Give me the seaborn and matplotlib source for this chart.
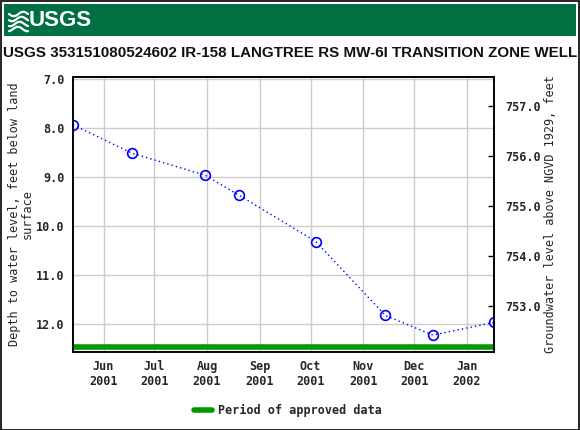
import matplotlib
matplotlib.use("Agg")
import matplotlib.pyplot as plt
import matplotlib.dates as mdates
import seaborn as sns
import pandas as pd
import numpy as np
from matplotlib.patches import Rectangle

# ---- data ----
dates = ["2001-05-14", "2001-06-18", "2001-07-31", "2001-08-20",
         "2001-10-04", "2001-11-14", "2001-12-12", "2002-01-17"]
depths = [7.93, 8.51, 8.96, 9.37, 10.31, 11.82, 12.22, 11.96]
tick_dates = ["2001-06-01", "2001-07-01", "2001-08-01", "2001-09-01",
              "2001-10-01", "2001-11-01", "2001-12-01", "2002-01-01"]
tick_labels = ["Jun\n2001", "Jul\n2001", "Aug\n2001", "Sep\n2001",
               "Oct\n2001", "Nov\n2001", "Dec\n2001", "Jan\n2002"]
left_ticks = [7.0, 8.0, 9.0, 10.0, 11.0, 12.0]
right_ticks = [753.0, 754.0, 755.0, 756.0, 757.0]
approved_start = "2001-05-14"
approved_end = "2002-01-17"

title = "USGS 353151080524602 IR-158 LANGTREE RS MW-6I TRANSITION ZONE WELL"

df = pd.DataFrame({"date": pd.to_datetime(dates), "depth": depths})

sns.set_theme(style="white")
plt.rcParams["font.family"] = ["DejaVu Sans"]

W, H = 580, 430
fig = plt.figure(figsize=(W / 100, H / 100), dpi=100)

def fx(px):
    return px / W

def fy(py):
    return 1 - py / H

# outer frame
fig.add_artist(Rectangle((0.5 / W, 0.5 / H), 1 - 1.5 / W, 1 - 1.5 / H,
                         transform=fig.transFigure, fill=False,
                         edgecolor="black", linewidth=1.2))
# header band
fig.add_artist(Rectangle((fx(4), fy(36)), fx(572), 32 / H,
                         transform=fig.transFigure, facecolor="#006F41",
                         edgecolor="none"))
# logo waves
xs = np.linspace(9, 28, 30)
for k, off in enumerate([14, 19, 24, 29]):
    ys = off + 2.2 * np.sin((xs - 9) / 19 * 2 * np.pi + k * 0.6)
    fig.add_artist(plt.Line2D(fx(xs), fy(ys), transform=fig.transFigure,
                              color="white", linewidth=1.6))
fig.text(fx(29), fy(21), "USGS", color="white", fontsize=16, fontweight="bold",
         family=["Liberation Sans", "DejaVu Sans"],
         ha="left", va="center")

fig.text(fx(290), fy(53), title, fontsize=10.9, fontweight="bold",
         family=["Liberation Sans", "DejaVu Sans"],
         ha="center", va="center", color="#111111")

ax = fig.add_axes([fx(73), fy(352), fx(494 - 73), (352 - 77) / H])

sns.lineplot(data=df, x="date", y="depth", ax=ax, color="blue",
             linestyle=(0, (1, 2.2)), linewidth=1.0, marker="o",
             markersize=7, markerfacecolor="none", markeredgecolor="blue",
             markeredgewidth=1.2, sort=True, legend=False, zorder=5)

ax.plot(pd.to_datetime([approved_start, approved_end]), [12.46, 12.46],
        color="#009900", linewidth=4, solid_capstyle="butt", zorder=4,
        clip_on=False)

ax.set_xlim(pd.Timestamp(approved_start), pd.Timestamp(approved_end))
ax.set_ylim(12.565, 6.953)
ax.set_xticks(pd.to_datetime(tick_dates))
ax.set_xticklabels(tick_labels)
ax.set_yticks(left_ticks)
ax.set_yticklabels([f"{v:.1f}" for v in left_ticks])
ax.grid(True, color="#CCCCCC", linewidth=1.0)
ax.set_axisbelow(True)
for s in ax.spines.values():
    s.set_color("black")
    s.set_linewidth(1.2)

mono = ["DejaVu Sans Mono"]
ax.tick_params(axis="both", which="both", length=0, pad=6)
for lab in ax.get_xticklabels() + ax.get_yticklabels():
    lab.set_family(mono)
    lab.set_fontweight("bold")
    lab.set_fontsize(8.5)
ax.set_xlabel("")
ax.set_ylabel("Depth to water level, feet below land\nsurface",
              family=mono, fontsize=8.5, linespacing=1.0)
ax.yaxis.set_label_coords((34 - 73) / 421, 0.5)

ax2 = ax.twinx()
ax2.set_ylim(752.074, 757.574)
ax2.set_yticks(right_ticks)
ax2.set_yticklabels([f"{v:.1f}" for v in right_ticks])
ax2.tick_params(axis="y", direction="in", length=4, width=1, pad=8,
                color="black")
for lab in ax2.get_yticklabels():
    lab.set_family(mono)
    lab.set_fontweight("bold")
    lab.set_fontsize(8.5)
ax2.set_ylabel("Groundwater level above NGVD 1929, feet", family=mono,
               fontsize=8.5)
ax2.yaxis.set_label_coords((544 - 73) / 421, 0.5)
ax2.grid(False)
for s in ax2.spines.values():
    s.set_color("black")
    s.set_linewidth(1.2)

# legend
fig.add_artist(plt.Line2D([fx(194), fx(212)], [fy(410), fy(410)],
                          transform=fig.transFigure, color="#009900",
                          linewidth=4))
fig.text(fx(218), fy(410), "Period of approved data", family=mono,
         fontsize=8.5, fontweight="bold", ha="left", va="center")

fig.savefig("out.png", dpi=100)
